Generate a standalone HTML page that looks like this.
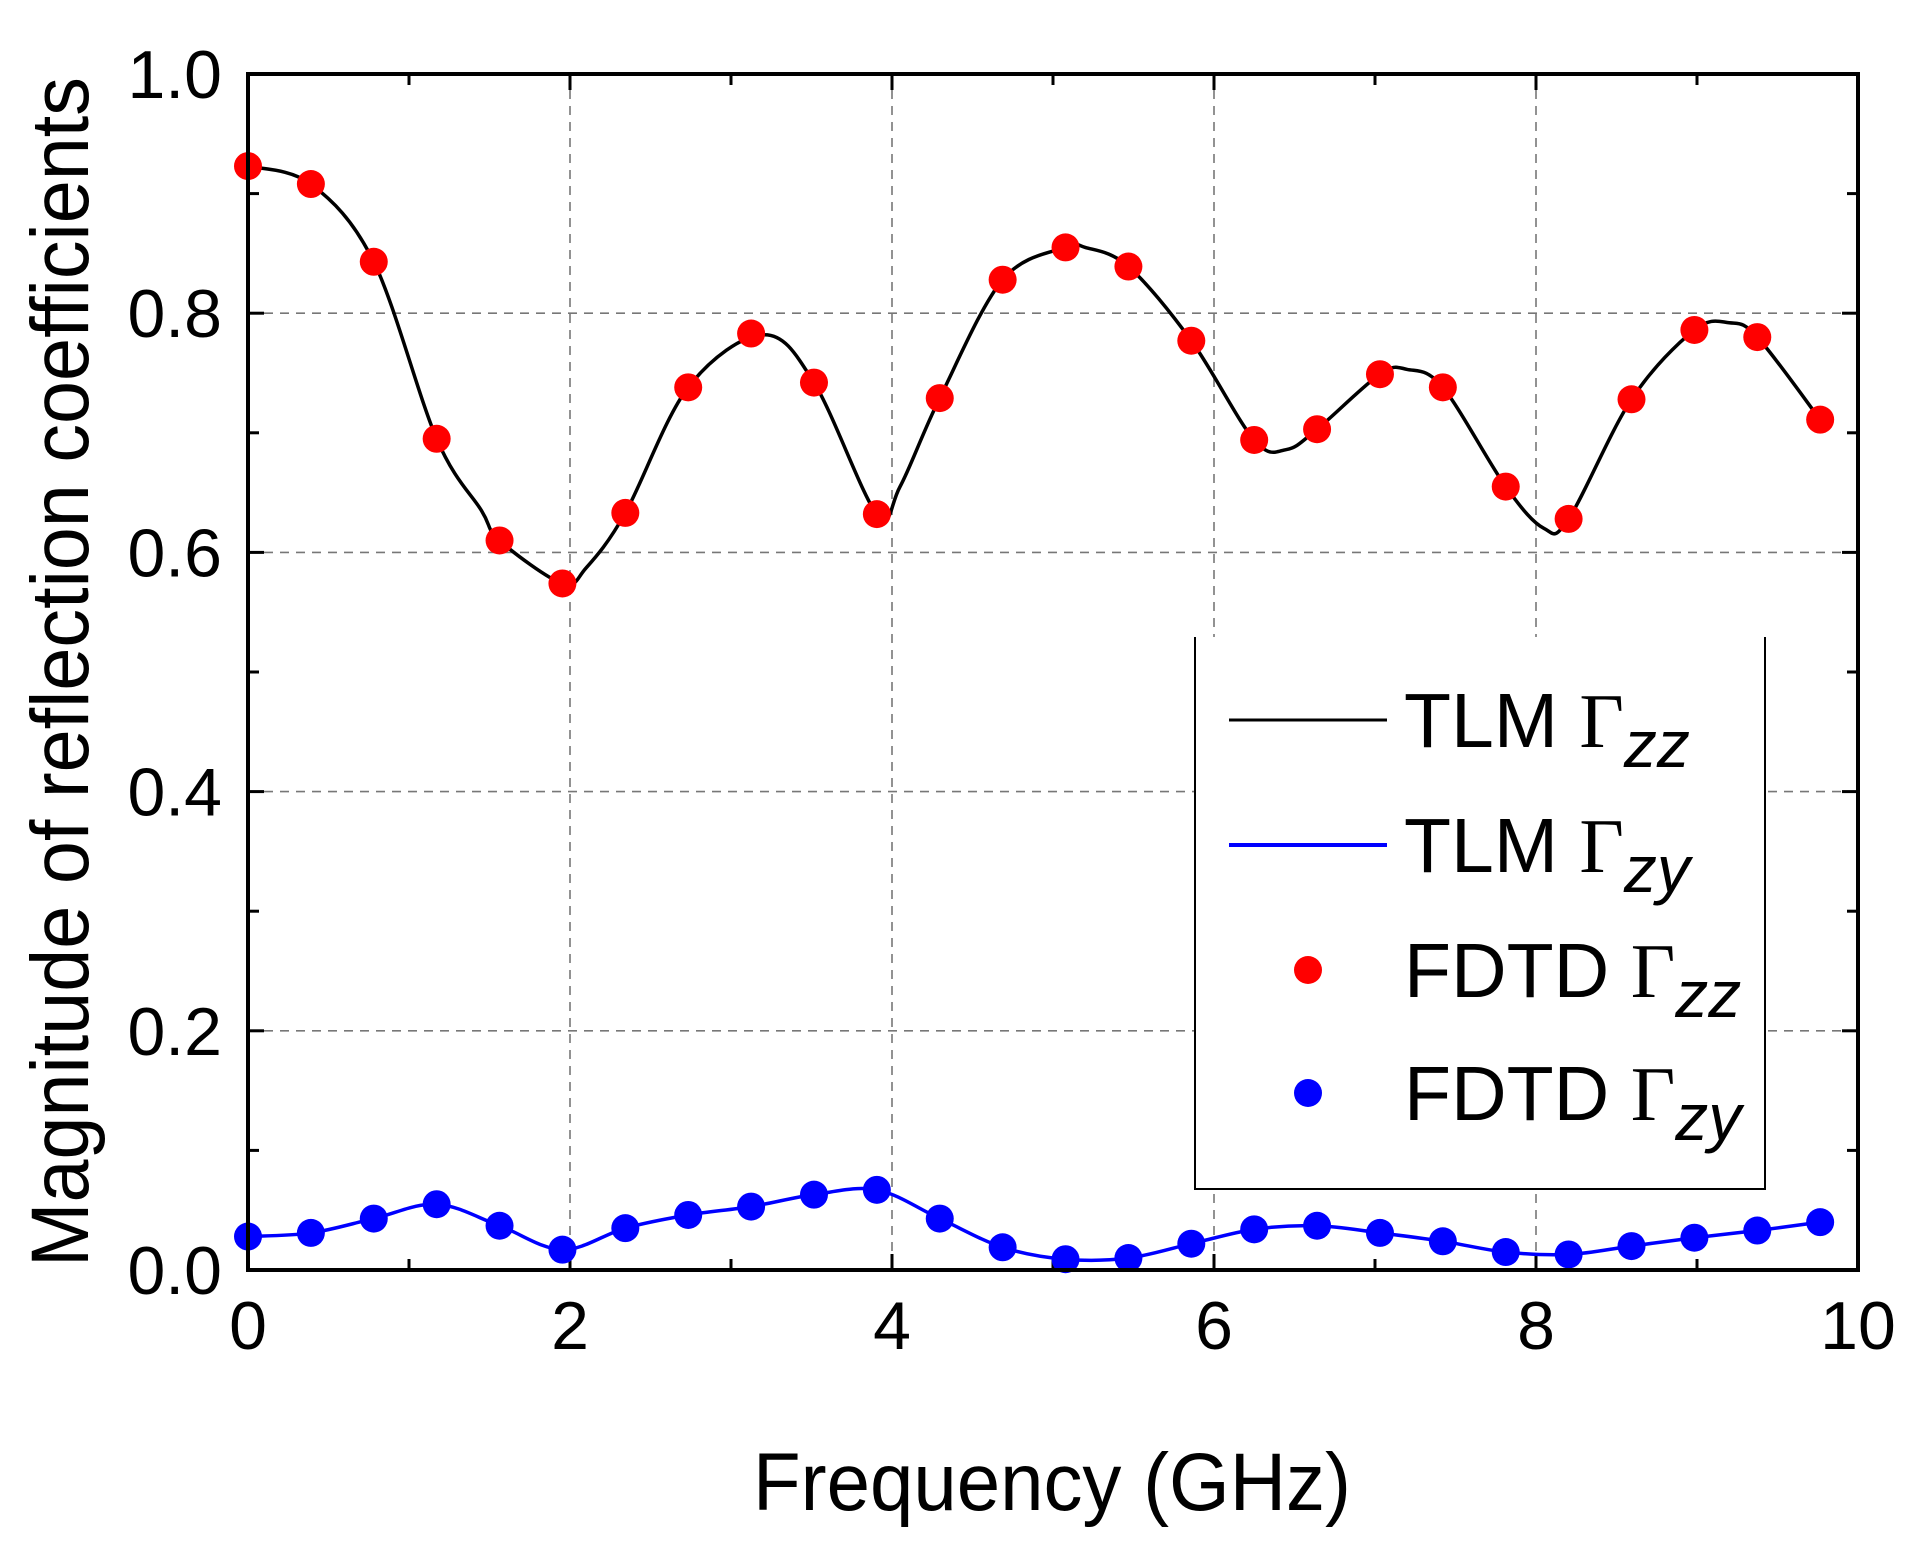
<!DOCTYPE html>
<html><head><meta charset="utf-8"><style>html,body{margin:0;padding:0;background:#fff}svg{display:block}</style></head>
<body>
<svg id="s" width="1914" height="1553" viewBox="0 0 1914 1553" xmlns="http://www.w3.org/2000/svg" font-family="Liberation Sans, sans-serif">
<g id="grid" stroke="#777" stroke-width="1.6" stroke-dasharray="9,7" fill="none"></g>
<g id="ticks" stroke="#000" stroke-width="3"></g>
<path id="blk" fill="none" stroke="#000" stroke-width="3.5"/>
<path id="blu" fill="none" stroke="#0000ff" stroke-width="3.5"/>
<g id="red" fill="#ff0000"></g>
<g id="bdots" fill="#0000ff"></g>
<rect x="248" y="74" width="1610" height="1196" fill="none" stroke="#000" stroke-width="4"/>
<g id="lab" font-size="68" fill="#000"></g>
<text x="1052" y="1510" font-size="82" text-anchor="middle" textLength="598" lengthAdjust="spacingAndGlyphs">Frequency (GHz)</text>
<text transform="translate(88,672) rotate(-90)" font-size="82" text-anchor="middle" textLength="1190" lengthAdjust="spacingAndGlyphs">Magnitude of reflection coefficients</text>
<!-- legend -->
<rect x="1195" y="637" width="570" height="552" fill="#fff" stroke="none"/>
<path d="M1195 637 V1189 H1765 V637" fill="none" stroke="#000" stroke-width="2"/>
<line x1="1229" y1="720" x2="1387" y2="720" stroke="#000" stroke-width="3"/>
<line x1="1229" y1="845" x2="1387" y2="845" stroke="#0000ff" stroke-width="4"/>
<circle cx="1308" cy="970" r="14" fill="#ff0000"/>
<circle cx="1308" cy="1093" r="14" fill="#0000ff"/>
<g font-size="77" fill="#000">
<text x="1404" y="747">TLM <tspan font-family="Liberation Serif, serif">Γ</tspan><tspan font-style="italic" font-size="66" dy="20">zz</tspan></text>
<text x="1404" y="872">TLM <tspan font-family="Liberation Serif, serif">Γ</tspan><tspan font-style="italic" font-size="66" dy="20">zy</tspan></text>
<text x="1404" y="997">FDTD <tspan font-family="Liberation Serif, serif">Γ</tspan><tspan font-style="italic" font-size="66" dy="20">zz</tspan></text>
<text x="1404" y="1120">FDTD <tspan font-family="Liberation Serif, serif">Γ</tspan><tspan font-style="italic" font-size="66" dy="20">zy</tspan></text>
</g>
</svg>
<script>
var NS="http://www.w3.org/2000/svg";
var X0=248,X1=1858,Y0=74,Y1=1270;
function px(f){return X0+f*(X1-X0)/10}
function py(v){return Y1-v*(Y1-Y0)}
function el(p,t,a,txt){var e=document.createElementNS(NS,t);for(var k in a)e.setAttribute(k,a[k]);if(txt!=null)e.textContent=txt;document.getElementById(p).appendChild(e);}
for(var i=2;i<=8;i+=2){el("grid","line",{x1:px(i),x2:px(i),y1:Y0,y2:Y1});}
for(var i=1;i<=4;i++){el("grid","line",{x1:X0,x2:X1,y1:py(i*0.2),y2:py(i*0.2)});}
for(var i=1;i<10;i++){var L=i%2?11:16;el("ticks","line",{x1:px(i),x2:px(i),y1:Y1,y2:Y1-L});el("ticks","line",{x1:px(i),x2:px(i),y1:Y0,y2:Y0+L});el("ticks","line",{x1:X0,x2:X0+L,y1:py(i/10),y2:py(i/10)});el("ticks","line",{x1:X1,x2:X1-L,y1:py(i/10),y2:py(i/10)});}
for(var i=0;i<=10;i+=2){el("lab","text",{x:px(i),y:1349,"text-anchor":"middle"},String(i));}
for(var i=0;i<=5;i++){el("lab","text",{x:222,y:py(i*0.2)+24,"text-anchor":"end"},(i*0.2).toFixed(1));}
var R=[0.923,0.908,0.843,0.695,0.610,0.574,0.633,0.738,0.783,0.742,0.632,0.729,0.828,0.855,0.839,0.777,0.694,0.703,0.749,0.738,0.655,0.628,0.728,0.786,0.780,0.711];
var B=[0.028,0.031,0.043,0.055,0.037,0.017,0.035,0.046,0.053,0.063,0.067,0.043,0.019,0.009,0.010,0.022,0.034,0.037,0.031,0.024,0.015,0.013,0.020,0.027,0.033,0.040];
var d=0.3906;
function cr(pts){var s="M"+pts[0][0]+" "+pts[0][1];for(var i=0;i<pts.length-1;i++){var p0=pts[Math.max(0,i-1)],p1=pts[i],p2=pts[i+1],p3=pts[Math.min(pts.length-1,i+2)];s+=" C"+(p1[0]+(p2[0]-p0[0])/6)+" "+(p1[1]+(p2[1]-p0[1])/6)+" "+(p2[0]-(p3[0]-p1[0])/6)+" "+(p2[1]-(p3[1]-p1[1])/6)+" "+p2[0]+" "+p2[1];}return s;}
var extra=[[1.45,0.635],[2.1,0.587],[3.2,0.782],[4.05,0.655],[5.2,0.855],[6.45,0.686],[7.2,0.753],[8.05,0.62],[9.2,0.792]];
var bp=[];for(var i=0;i<R.length;i++)bp.push([i*d,R[i]]);
extra.forEach(function(e){bp.push(e)});bp.sort(function(a,b){return a[0]-b[0]});
var fp=[];bp.forEach(function(p){if(fp.length&&Math.abs(fp[fp.length-1][0]-p[0])<0.08){fp[fp.length-1]=p;}else fp.push(p)});
document.getElementById("blk").setAttribute("d",cr(fp.map(function(p){return[px(p[0]),py(p[1])]})));
var bb=[];for(var i=0;i<B.length;i++)bb.push([px(i*d),py(B[i])]);
document.getElementById("blu").setAttribute("d",cr(bb));
for(var i=0;i<R.length;i++){el("red","circle",{cx:px(i*d),cy:py(R[i]),r:14});el("bdots","circle",{cx:px(i*d),cy:py(B[i]),r:14});}
</script>
</body></html>
